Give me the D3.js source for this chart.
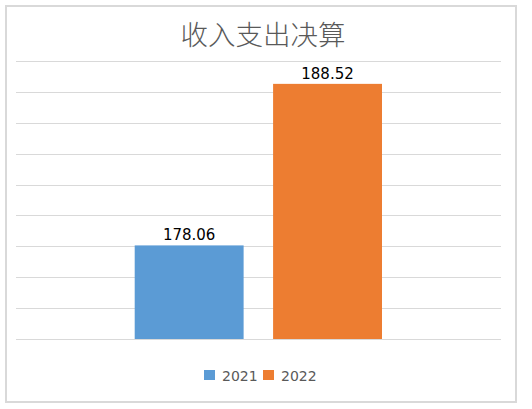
<!DOCTYPE html>
<html><head><meta charset="utf-8">
<script src="https://cdn.jsdelivr.net/npm/d3@7"></script>
<style>body{margin:0;background:#fff}svg{display:block}</style>
</head><body>
<svg id="c" width="532" height="409"></svg>
<script>
const title = "收入支出决算";
const categories = [""];
const seriesNames = ["2021", "2022"];
const seriesValues = [178.06, 188.52];
const colors = ["#5B9BD5", "#ED7D31"];
const yTicks = [172,174,176,178,180,182,184,186,188,190];

const svg = d3.select("#c");
svg.append("rect").attr("x",6).attr("y",6).attr("width",510).attr("height",396)
  .attr("fill","#fff").attr("stroke","#D9D9D9").attr("stroke-width",2);

const m = {l:16, r:501, t:61, b:339};
const y = d3.scaleLinear().domain([172,190]).range([m.b, m.t]);
const x0 = d3.scaleBand().domain(categories).range([m.l, m.r]).paddingInner(0).paddingOuter(0);
const x1 = d3.scaleBand().domain(seriesNames).range([134.7 - m.l, 382 - m.l]).paddingInner(0.213);

svg.append("g").selectAll("line").data(yTicks).join("line")
  .attr("x1", m.l).attr("x2", m.r)
  .attr("y1", d=>Math.round(y(d))+0.5).attr("y2", d=>Math.round(y(d))+0.5)
  .attr("stroke","#D9D9D9").attr("stroke-width",1);

const data = seriesNames.map((s,i)=>({s, v: seriesValues[i], c: colors[i]}));
const g = svg.append("g").attr("transform", `translate(${x0("")},0)`);
g.selectAll("rect").data(data).join("rect")
  .attr("x", d=>x1(d.s)).attr("width", x1.bandwidth())
  .attr("y", d=>y(d.v)).attr("height", d=>y(172)-y(d.v))
  .attr("fill", d=>d.c);
g.selectAll("text").data(data).join("text")
  .attr("x", d=>x1(d.s)+x1.bandwidth()/2).attr("y", d=>y(d.v)-5)
  .attr("text-anchor","middle").attr("font-family","'DejaVu Sans', sans-serif")
  .attr("font-size",15).attr("fill","#000").text(d=>d.v.toFixed(2));

svg.append("text").attr("x", 263).attr("y", 45).attr("text-anchor","middle")
  .attr("font-family","'Noto Sans CJK SC', sans-serif").attr("font-weight",300)
  .attr("font-size",27.5).attr("fill","#595959").text(title);

const leg = svg.append("g");
const legX = [204, 263];
data.forEach((d,i)=>{
  leg.append("rect").attr("x",legX[i]).attr("y",370).attr("width",11).attr("height",10).attr("fill",d.c);
  leg.append("text").attr("x",legX[i]+18).attr("y",381).attr("font-family","'DejaVu Sans', sans-serif")
    .attr("font-size",14).attr("fill","#595959").text(d.s);
});
</script>
</body></html>
